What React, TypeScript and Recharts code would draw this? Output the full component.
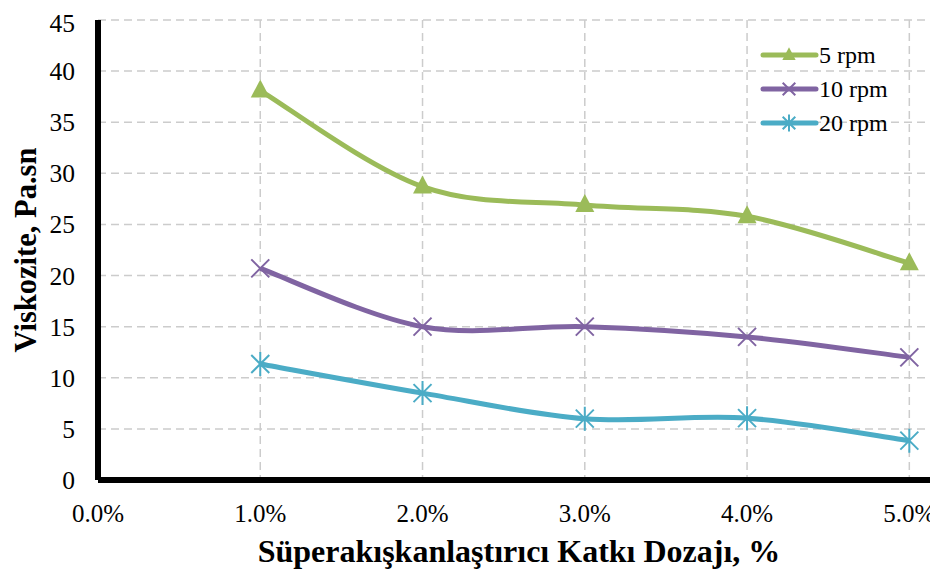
import React from 'react';
import { LineChart, Line, XAxis, YAxis, CartesianGrid, ReferenceLine } from 'recharts';

const dosages = [1, 2, 3, 4, 5];
const rpm5 = [38.1, 28.7, 26.9, 25.8, 21.2];
const rpm10 = [20.7, 15.0, 15.0, 14.0, 12.0];
const rpm20 = [11.35, 8.5, 6.0, 6.05, 3.85];
const xTicks = [0, 1, 2, 3, 4, 5];
const yTicks = [0, 5, 10, 15, 20, 25, 30, 35, 40, 45];
const seriesNames = ['5 rpm', '10 rpm', '20 rpm'];

const data = dosages.map((d, i) => ({ x: d, a: rpm5[i], b: rpm10[i], c: rpm20[i] }));

const GREEN = '#9BBB59';
const PURPLE = '#8064A2';
const CYAN = '#4BACC6';
const FONT = '"Liberation Serif", "Times New Roman", serif';

// Excel-like smoothing (Catmull-Rom style bezier)
const excelCurve: any = (context: any) => {
  let pts: number[][] = [];
  return {
    areaStart() {},
    areaEnd() {},
    lineStart() { pts = []; },
    point(x: number, y: number) { pts.push([+x, +y]); },
    lineEnd() {
      if (!pts.length) return;
      context.moveTo(pts[0][0], pts[0][1]);
      for (let i = 0; i < pts.length - 1; i++) {
        const p0 = pts[i - 1] || pts[i];
        const p1 = pts[i];
        const p2 = pts[i + 1];
        const p3 = pts[i + 2] || p2;
        const c1x = p1[0] + (p2[0] - p0[0]) / 6;
        const c1y = p1[1] + (p2[1] - p0[1]) / 6;
        const c2x = p2[0] - (p3[0] - p1[0]) / 6;
        const c2y = p2[1] - (p3[1] - p1[1]) / 6;
        context.bezierCurveTo(c1x, c1y, c2x, c2y, p2[0], p2[1]);
      }
    },
  };
};

const Tri = ({ cx, cy, color, s = 1 }: any) => (
  <path d={`M${cx},${cy - 11 * s} L${cx + 9.5 * s},${cy + 7 * s} L${cx - 9.5 * s},${cy + 7 * s} Z`} fill={color} />
);
const Cross = ({ cx, cy, color, s = 1 }: any) => (
  <path d={`M${cx - 9 * s},${cy - 9 * s} L${cx + 9 * s},${cy + 9 * s} M${cx - 9 * s},${cy + 9 * s} L${cx + 9 * s},${cy - 9 * s}`} stroke={color} strokeWidth={2} fill="none" />
);
const Star = ({ cx, cy, color, s = 1 }: any) => (
  <path d={`M${cx - 9 * s},${cy - 9 * s} L${cx + 9 * s},${cy + 9 * s} M${cx - 9 * s},${cy + 9 * s} L${cx + 9 * s},${cy - 9 * s} M${cx},${cy - 12 * s} L${cx},${cy + 12 * s}`} stroke={color} strokeWidth={2} fill="none" />
);

const markers = [Tri, Cross, Star];
const colors = [GREEN, PURPLE, CYAN];

const LegendBox = () => (
  <svg width={170} height={110} style={{ position: 'absolute', left: 748, top: 30 }}>
    {seriesNames.map((n, i) => {
      const y = 17 + i * 34;
      const M = markers[i];
      return (
        <g key={n}>
          <line x1={7} y1={y} x2={60} y2={y} stroke={colors[i]} strokeWidth={5} strokeLinecap="round" />
          <M cx={33} cy={y} color={colors[i]} s={0.7} />
          <text x={63} y={y + 8} fontFamily={FONT} fontSize={24} fill="#000">{n}</text>
        </g>
      );
    })}
  </svg>
);

export default function App() {
  return (
    <div style={{ width: 930, height: 565, overflow: 'hidden', position: 'relative' }}>
      <LineChart width={970} height={565} data={data} margin={{ top: 12, right: 20, left: 0, bottom: 33 }}>
        <CartesianGrid stroke="#cccccc" strokeDasharray="8 5" strokeWidth={1.5} />
        <XAxis
          type="number"
          dataKey="x"
          domain={[0, 5.3]}
          ticks={xTicks}
          tickFormatter={(v: number) => `${v.toFixed(1)}%`}
          height={60}
          tickSize={0}
          tickMargin={24}
          axisLine={{ stroke: '#000', strokeWidth: 6 }}
          tick={{ fontFamily: FONT, fontSize: 25, fill: '#000' }}
          allowDataOverflow
          label={{
            content: () => (
              <text x={511} y={543} textAnchor="middle" dominantBaseline="central" fontFamily={FONT} fontWeight="bold" fontSize={32} fill="#000">
                Süperakışkanlaştırıcı Katkı Dozajı, %
              </text>
            ),
          }}
        />
        <XAxis xAxisId="top" orientation="top" type="number" dataKey="x" domain={[0, 5.3]} ticks={[]} height={0} tick={false} tickLine={false} axisLine={{ stroke: '#000', strokeWidth: 6 }} />
        <YAxis
          type="number"
          domain={[0, 45]}
          ticks={yTicks}
          width={90}
          tickSize={0}
          tickMargin={23}
          axisLine={{ stroke: '#000', strokeWidth: 6 }}
          tick={{ fontFamily: FONT, fontSize: 25.5, fill: '#000' }}
          label={{
            content: () => (
              <text x={18} y={242} transform="rotate(-90 18 242)" textAnchor="middle" dominantBaseline="central" fontFamily={FONT} fontWeight="bold" fontSize={30.5} fill="#000">
                Viskozite, Pa.sn
              </text>
            ),
          }}
        />
        <ReferenceLine x={0} stroke="#777" strokeWidth={1.5} />
        <ReferenceLine y={0} stroke="#777" strokeWidth={1.5} />
        <Line dataKey="a" type={excelCurve} stroke={GREEN} strokeWidth={5} isAnimationActive={false} dot={(p: any) => <Tri key={`a${p.index}`} cx={p.cx} cy={p.cy} color={GREEN} />} activeDot={false} />
        <Line dataKey="b" type={excelCurve} stroke={PURPLE} strokeWidth={5} isAnimationActive={false} dot={(p: any) => <Cross key={`b${p.index}`} cx={p.cx} cy={p.cy} color={PURPLE} />} activeDot={false} />
        <Line dataKey="c" type={excelCurve} stroke={CYAN} strokeWidth={5} isAnimationActive={false} dot={(p: any) => <Star key={`c${p.index}`} cx={p.cx} cy={p.cy} color={CYAN} />} activeDot={false} />
      </LineChart>
      <LegendBox />
    </div>
  );
}
